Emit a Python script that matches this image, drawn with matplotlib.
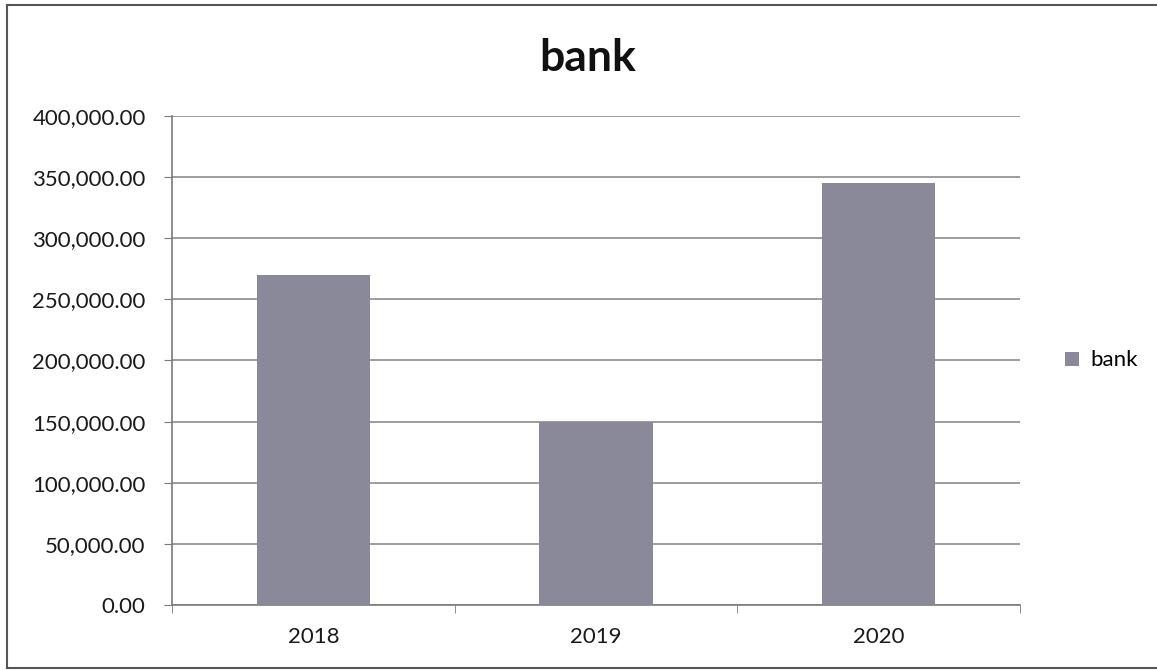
import matplotlib.pyplot as plt
from matplotlib.lines import Line2D
from matplotlib.ticker import FuncFormatter

years = ['2018', '2019', '2020']
bank = [270000, 150000, 345000]
y_ticks = [0, 50000, 100000, 150000, 200000, 250000, 300000, 350000, 400000]

plt.rcParams['font.family'] = ['Lato', 'DejaVu Sans']

bar_color = '#89899a'
grid_color = '#8c8c8c'

fig = plt.figure(figsize=(11.57, 6.70), dpi=100)
ax = fig.add_axes([0.1487, 0.097, 0.7329, 0.7299])

x = range(len(years))
ax.bar(x, bank, width=0.4, color=bar_color, label='bank', zorder=3)

ax.set_xlim(-0.5, len(years) - 0.5)
ax.set_ylim(0, 400000)
ax.set_yticks(y_ticks)
ax.yaxis.set_major_formatter(FuncFormatter(lambda v, p: f'{v:,.2f}'))
ax.set_xticks(list(x))
ax.set_xticklabels(years)
ax.set_xticks([i + 0.5 for i in range(-1, len(years))], minor=True)

ax.grid(axis='y', color=grid_color, linewidth=1.2, zorder=0)
for s in ['top', 'right']:
    ax.spines[s].set_visible(False)
for s in ['left', 'bottom']:
    ax.spines[s].set_color('#7a7a7a')
    ax.spines[s].set_linewidth(1.2)

ax.tick_params(axis='y', direction='out', length=6, color='#7a7a7a', labelsize=16, pad=13, labelcolor='#1a1a1a')
ax.tick_params(axis='x', which='major', length=0, labelsize=16, pad=16, labelcolor='#1a1a1a')
ax.tick_params(axis='x', which='minor', direction='out', length=6, color='#7a7a7a')

fig.text(0.508, 0.913, 'bank', ha='center', va='center', fontsize=32, fontweight='bold', color='#111111')

ax.legend(loc='center left', bbox_to_anchor=(1.03, 0.5), frameon=False, fontsize=16,
          handlelength=0.6, handleheight=0.6, handletextpad=0.5)

# outer chart frame
frame_kw = dict(color='#555555', linewidth=1.5, transform=fig.transFigure)
fig.add_artist(Line2D([0.006, 1.0], [0.993, 0.993], **frame_kw))
fig.add_artist(Line2D([0.006, 0.006], [0.003, 0.993], **frame_kw))
fig.add_artist(Line2D([0.006, 1.0], [0.003, 0.003], **frame_kw))

fig.savefig('out.png', dpi=100)
